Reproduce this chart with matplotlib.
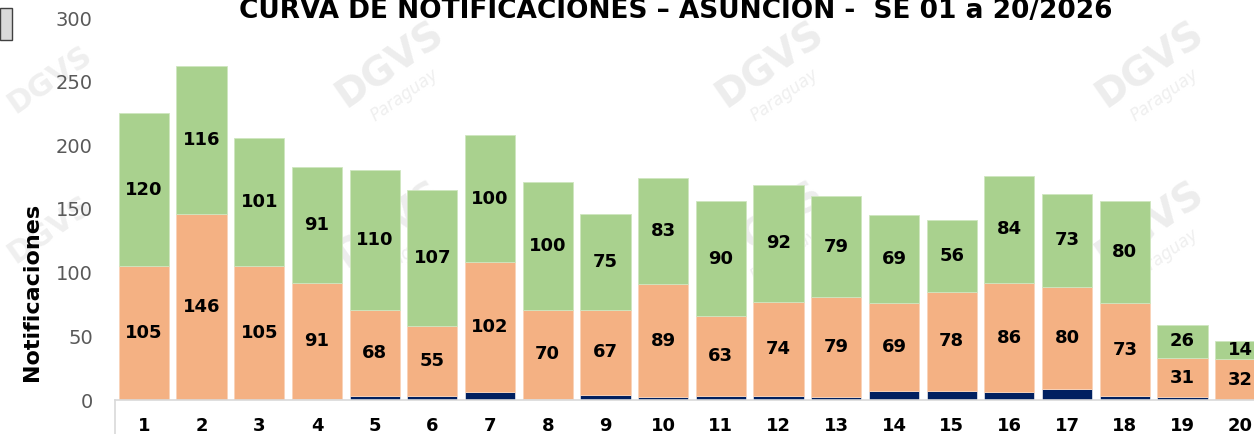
import matplotlib
matplotlib.use("Agg")
import matplotlib.pyplot as plt
from matplotlib.patches import Rectangle
import numpy as np

# semanas epidemiologicas
semanas = [str(i) for i in range(1, 21)]
# segmento inferior (azul oscuro)
azul = [0, 0, 0, 1, 3, 3, 6, 1, 4, 2, 3, 3, 2, 7, 7, 6, 9, 3, 2, 0]
# segmento medio (naranja)
naranja = [105, 146, 105, 91, 68, 55, 102, 70, 67, 89, 63, 74, 79, 69, 78, 86, 80, 73, 31, 32]
# segmento superior (verde)
verde = [120, 116, 101, 91, 110, 107, 100, 100, 75, 83, 90, 92, 79, 69, 56, 84, 73, 80, 26, 14]

titulo = "CURVA DE NOTIFICACIONES \u2013 ASUNCION -  SE 01 a 20/2026"
yticks = [0, 50, 100, 150, 200, 250, 300]

C_AZUL = "#002060"
C_NAR = "#F4B183"
C_VER = "#A9D18E"

W, H = 1254, 434
fig = plt.figure(figsize=(W / 100, H / 100), dpi=100)
fig.patch.set_facecolor("white")

# ejes: x=0.5 en px 115, cada semana ~57.7 px, y=0 en px 400, y=300 en px 18
ax = fig.add_axes([115 / W, (H - 400) / H, (57.7 * 20) / W, 382 / H])
ax.patch.set_visible(False)

x = np.arange(1, 21)
azul = np.array(azul)
naranja = np.array(naranja)
verde = np.array(verde)
ancho = 0.87

ax.bar(x, azul, ancho, color=C_AZUL, edgecolor="white", linewidth=0.4, zorder=2)
ax.bar(x, naranja, ancho, bottom=azul, color=C_NAR, edgecolor="#f9d3b8", linewidth=0.6, zorder=2)
ax.bar(x, verde, ancho, bottom=azul + naranja, color=C_VER, edgecolor="#cfe6bf", linewidth=0.6, zorder=2)

# etiquetas dentro de los segmentos
for xi, a, n, v in zip(x, azul, naranja, verde):
    ax.text(xi, a + n / 2, str(n), ha="center", va="center", fontsize=13,
            fontweight="bold", color="black", zorder=3)
    ax.text(xi, a + n + v / 2, str(v), ha="center", va="center", fontsize=13,
            fontweight="bold", color="black", zorder=3)

ax.set_xlim(0.5, 20.5)
ax.set_ylim(0, 300)
ax.set_yticks(yticks)
ax.set_yticklabels([str(t) for t in yticks], fontsize=14, color="#595959")
ax.set_xticks(x)
ax.set_xticklabels(semanas, fontsize=13, fontweight="bold", color="black")
ax.tick_params(axis="y", length=0, pad=16)
ax.tick_params(axis="x", length=0, pad=12)

for s in ["top", "right", "left"]:
    ax.spines[s].set_visible(False)
ax.spines["bottom"].set_color("#d9d9d9")
ax.spines["bottom"].set_linewidth(1.2)
# borde de la tabla bajo el eje
ax.plot([0, 0], [0, -0.12], transform=ax.transAxes, color="#d9d9d9",
        linewidth=1.2, clip_on=False)

# titulo (recortado arriba)
fig.text(676 / W, 1 - 18 / H, titulo, ha="center", va="baseline",
         fontsize=19, fontweight="bold", color="black")

# etiqueta eje y
fig.text(32 / W, 1 - 292 / H, "Notificaciones", rotation=90, ha="center",
         va="center", fontsize=16, fontweight="bold", color="black")

# cuadrito gris arriba a la izquierda
fig.patches.append(Rectangle((0, 1 - 40 / H), 12 / W, 32 / H, transform=fig.transFigure,
                             facecolor="#d9d9d9", edgecolor="#404040", linewidth=1))

# marcas de agua DGVS
for cx in [390, 770, 1150]:
    for cy in [65, 225]:
        fig.text(cx / W, 1 - cy / H, "DGVS", rotation=35, ha="center", va="center",
                 fontsize=28, fontweight="bold", color="#ededed", zorder=-1)
        fig.text((cx + 15) / W, 1 - (cy + 30) / H, "Paraguay", rotation=35,
                 ha="center", va="center", fontsize=12, style="italic",
                 color="#efefef", zorder=-1)
for cy in [80, 230]:
    fig.text(50 / W, 1 - cy / H, "DGVS", rotation=35, ha="center", va="center",
             fontsize=22, fontweight="bold", color="#efefef", zorder=-1)

fig.savefig("out.png", dpi=100)
